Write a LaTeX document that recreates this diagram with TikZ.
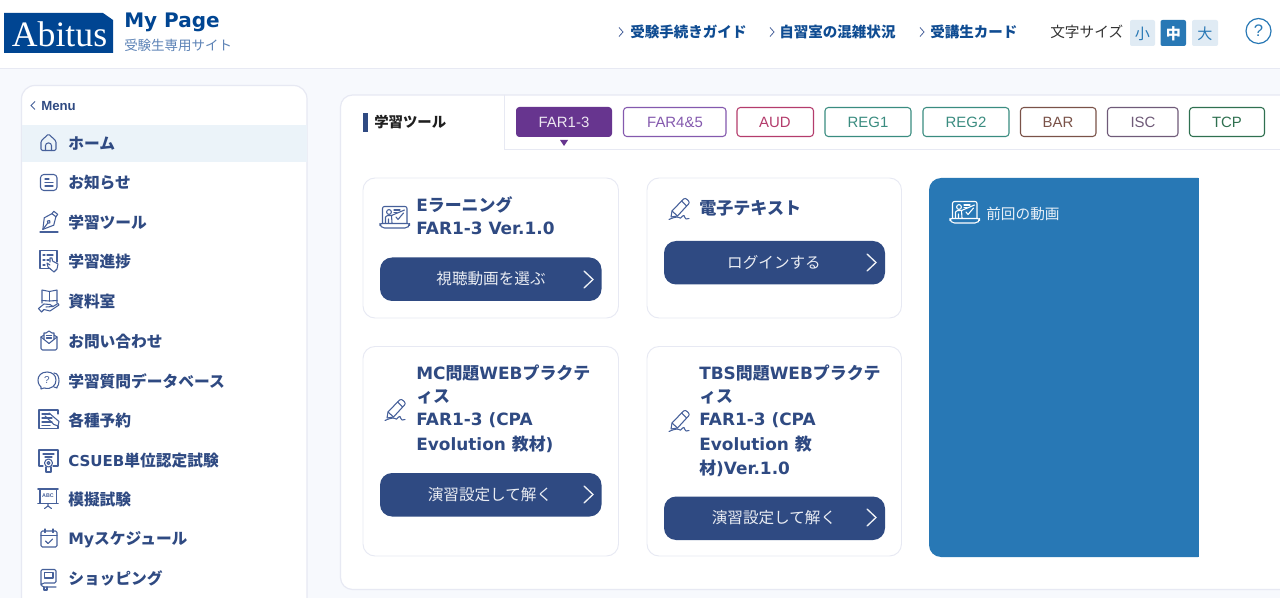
\documentclass[tikz,border=0pt]{standalone}
\usepackage{fontspec}
\setmainfont{Noto Sans CJK JP}
\newfontfamily\cjk{Noto Sans CJK JP}
\newfontfamily\lat{DejaVu Sans}
\newfontfamily\ari{Liberation Sans}
\newfontfamily\srf{Liberation Serif}
\newcommand\la[1]{{\lat #1}}
\definecolor{navy}{HTML}{2F4A82}
\definecolor{logoblue}{HTML}{004592}
\definecolor{linkblue}{HTML}{0F4C92}
\definecolor{midblue}{HTML}{2878B5}
\definecolor{paleblue}{HTML}{E0EBF4}
\definecolor{hilite}{HTML}{EBF3F9}
\definecolor{pagebg}{HTML}{F7F9FD}
\definecolor{rule}{HTML}{E7E9F3}
\definecolor{subblue}{HTML}{5D83B6}
\definecolor{tabpurple}{HTML}{67358F}
\definecolor{icon}{HTML}{46609A}
\definecolor{fartwo}{HTML}{8459AE}
\definecolor{audc}{HTML}{B43C6C}
\definecolor{regc}{HTML}{3A8C80}
\definecolor{barc}{HTML}{7A5248}
\definecolor{iscc}{HTML}{6F5A78}
\definecolor{tcpc}{HTML}{2F7050}
\tikzset{
  txt/.style={inner sep=0pt,anchor=west},
  menuitem/.style={txt,text=navy,font=\cjk\bfseries\fontsize{11.8pt}{14pt}\selectfont},
  toplink/.style={txt,text=linkblue,font=\cjk\bfseries\fontsize{10.9pt}{13pt}\selectfont},
  cardtitle/.style={txt,text=navy,font=\lat\bfseries\fontsize{12.7pt}{15pt}\selectfont},
  btntext/.style={inner sep=0pt,text=white!90!navy,font=\cjk\fontsize{11.7pt}{14pt}\selectfont},
  tabtext/.style={inner sep=0pt,font=\ari\fontsize{11.2pt}{14pt}\selectfont},
  cardbox/.style={draw=rule,fill=white,line width=.7pt,rounded corners=9pt},
  btnbox/.style={fill=navy,rounded corners=9pt},
  tabbox/.style={line width=.8pt,rounded corners=2.5pt,fill=white},
  sizebox/.style={rounded corners=1.5pt},
  sizetxt/.style={inner sep=0pt,font=\cjk\fontsize{11.3pt}{13pt}\selectfont},
  chev/.style={draw=white!92!navy,line width=1pt,line cap=round,line join=miter},
  smallchev/.style={draw=#1,line width=.6pt},
  ico/.style={draw=#1,line width=.8pt,line cap=round,line join=round},
}
\newcommand\teacher[3]{\begin{scope}[shift={(#1,#2)},ico=#3]
  \draw[rounded corners=1.5pt] (-12.5,5.5) -- (-12.5,-11.5) -- (12,-11.5) -- (12,5.5);
  \draw[rounded corners=1.5pt] (-15,5.5) -- (14.5,5.5) -- (14.5,7.5) -- (12,10) -- (-12.5,10) -- (-15,7.5) -- cycle;
  \draw (-6,-6) circle (2.4);
  \draw (-9.5,5) -- (-9.5,-1) -- (-7.5,-2.5) -- (-3.5,-2.5) -- (9.5,-8);
  \draw (-3.5,-2.5) -- (-3,5) (-6.5,1) -- (-6.5,5);
  \draw (-1,-8) -- (5,-8) (-1,-5.5) -- (2,-5.5);
  \draw (1,-1) -- (3,1.5) -- (8.5,-5);
\end{scope}}
\newcommand\penicon[3]{\begin{scope}[shift={(#1,#2)},ico=#3]
  \draw (-7,2) -- (4.5,-10) .. controls (6,-11) and (7,-10.5) .. (8,-9.5) -- (9.5,-8) .. controls (10.5,-7) and (10.5,-6) .. (9.5,-5) -- (-1.5,7) -- (-8,8) -- cycle;
  \draw (2.5,-8) -- (7.5,-3);
  \draw (-7,2) -- (-1.5,7);
  \draw (-10,10.5) .. controls (-6,8.5) and (-2,7.5) .. (0,8.5) .. controls (2,11) and (3,6) .. (5,6.5) .. controls (6,7) and (5.5,10) .. (7,10) -- (10,9.5);
\end{scope}}
\begin{document}
\begin{tikzpicture}[x=0.75pt,y=-0.75pt]
\useasboundingbox (0,0) rectangle (1280,598);
\clip (0,0) rectangle (1280,598);
\fill[pagebg] (0,0) rectangle (1280,598);
% header
\fill[white] (0,0) rectangle (1280,68);
\draw[rule,line width=.9pt] (0,68.5) -- (1280,68.5);
\fill[logoblue] (4,13) -- (103,13) -- (113,20) -- (113,53) -- (4,53) -- cycle;
\node (logo) [inner sep=0pt,text=white,font=\srf\fontsize{26.8pt}{30pt}\selectfont] at (59.5,34) {Abitus};
\node (mypage) [txt,text=logoblue,font=\lat\bfseries\fontsize{15pt}{18pt}\selectfont] at (124,22.5) {My Page};
\node (sub) [txt,text=subblue,font=\cjk\fontsize{10.1pt}{12pt}\selectfont] at (124,45) {受験生専用サイト};
\foreach \cx in {621,772,922} \draw[smallchev=icon] (\cx-2,27.5) -- (\cx+2,32) -- (\cx-2,36.5);
\node (link1) [toplink] at (630,32) {受験手続きガイド};
\node (link2) [toplink] at (779,32) {自習室の混雑状況};
\node (link3) [toplink] at (930,32) {受講生カード};
\node (fsize) [txt,text=black!80,font=\cjk\fontsize{11pt}{13pt}\selectfont] at (1050,32) {文字サイズ};
\fill[sizebox,paleblue] (1130,20) rectangle (1155,46);
\fill[sizebox,midblue] (1160.5,20) rectangle (1186,46);
\fill[sizebox,paleblue] (1192,20) rectangle (1218,46);
\node (sz1) [sizetxt,text=midblue] at (1142.5,33.5) {小};
\node (sz2) [sizetxt,text=white,font=\cjk\bfseries\fontsize{11.3pt}{13pt}\selectfont] at (1173.5,33.5) {中};
\node (sz3) [sizetxt,text=midblue] at (1205,33.5) {大};
\draw[midblue,line width=.9pt] (1258.5,31) circle (12.5);
\node (qm) [inner sep=0pt,text=midblue,font=\ari\fontsize{12.5pt}{14pt}\selectfont] at (1258.5,31) {?};
% side menu
\draw[draw=rule,fill=white,line width=.9pt,rounded corners=10pt] (21.5,640) -- (21.5,85.5) -- (307,85.5) -- (307,640);
\fill[hilite] (22,125) rectangle (306.5,162.5);
\draw[smallchev=icon] (35,101.5) -- (31,105.5) -- (35,109.5);
\node (menu) [txt,text=navy,font=\ari\bfseries\fontsize{9.9pt}{12pt}\selectfont] at (41,106) {Menu};
\node (m1) [menuitem] at (68,143.5) {ホーム};
\node (m2) [menuitem] at (68,182.5) {お知らせ};
\node (m3) [menuitem] at (68,222.5) {学習ツール};
\node (m4) [menuitem] at (68,261.5) {学習進捗};
\node (m5) [menuitem] at (68,301.5) {資料室};
\node (m6) [menuitem] at (68,341.5) {お問い合わせ};
\node (m7) [menuitem] at (68,381) {学習質問データベース};
\node (m8) [menuitem] at (68,420.5) {各種予約};
\node (m9) [menuitem] at (68,460.5) {{\lat\fontsize{11.3pt}{14pt}\selectfont CSUEB}単位認定試験};
\node (m10) [menuitem] at (68,499.5) {模擬試験};
\node (m11) [menuitem] at (68,540) {\la{My}スケジュール};
\node (m12) [menuitem] at (68,578) {ショッピング};
% menu icons
\begin{scope}[ico=icon]
  % home
  \draw[rounded corners=1pt] (41,141) -- (48.5,134) -- (56,141) -- (56,150.5) -- (41,150.5) -- cycle;
  \draw[rounded corners=2pt] (45.5,150.5) -- (45.5,143) -- (51.5,143) -- (51.5,150.5);
  % notice
  \draw[rounded corners=2.5pt] (40.5,174.5) rectangle (57,190.5);
  \draw (45,179) -- (49,179) (45,182.5) -- (53,182.5) (45,186) -- (53,186);
  % nib
  \begin{scope}[shift={(49,221.5)},rotate=-38]
    \draw (-2.5,-11) -- (2.5,-11) -- (2.5,-8) -- (6,0) -- (0,10) -- (-6,0) -- (-2.5,-8) -- cycle;
    \draw (-2.5,-8) -- (2.5,-8) (0,10) -- (0,2);
    \draw (0,0.5) circle (1.6);
  \end{scope}
  \draw (40,232) -- (58,232);
  % progress
  \draw (57,262) -- (57,250.5) -- (40,250.5) -- (40,268.5) -- (50,268.5);
  \draw (43,255) -- (45,255) (47,255) -- (53,255) (43,260) -- (45,260) (43,265) -- (45,265) (47,260) -- (49,260);
  \draw (50,262) -- (50,258) -- (52,258) -- (52.5,261) -- (58,264) -- (57,269) -- (54,272) -- (48,267) -- (47,263) -- (50,265);
  % book-hand
  \draw (42,303) -- (42,290) -- (49.5,291.5) -- (57,290) -- (57,303);
  \draw (49.5,291.5) -- (49.5,301);
  \draw (42,300.5) -- (49.5,301) -- (57,300.5);
  \draw (38.5,308.5) -- (44,304) -- (50,304.5) -- (53,306.5) -- (58,303.5) -- (59,305) -- (50,311) -- (44,309.5) -- (41.5,312) -- cycle;
  \draw (46,307) -- (53,306.5);
  % mail
  \draw[rounded corners=1pt] (41,337) -- (41,350) -- (57,350) -- (57,337);
  \draw (41,337) -- (49,343.5) -- (57,337);
  \draw (41,337) -- (44,335) (57,337) -- (54,335);
  \draw (44,339) -- (44,333) -- (46,333) -- (49,331) -- (52,333) -- (54,333) -- (54,339);
  \draw (46.5,335.5) -- (51.5,335.5) (46.5,338) -- (51.5,338);
  % chat
  \draw (47,372) .. controls (41,372) and (38,376) .. (38,380) .. controls (38,384) and (40,386) .. (41,387) -- (41,389) -- (44,388) .. controls (52,390) and (56,385) .. (56,380) .. controls (56,375) and (52,372) .. (47,372);
  \draw (54,373) .. controls (58,373) and (59,378) .. (59,381) .. controls (59,384) and (58,386) .. (57,387) -- (57,388) -- (54,387);
  % reservation
  \draw (58,414) -- (58,410) -- (39,410) -- (39,428.5) -- (58,428.5) -- (58,426);
  \draw (42,414) -- (50,414) (42,418) -- (52,418) (42,422) -- (52,422) (42,425.5) -- (50,425.5);
  \draw (49,413) -- (59,421.5) -- (58,426) -- (54,424.5) -- (45,416);
  % certificate
  \draw (43,466) -- (39,466) -- (39,450) -- (58,450) -- (58,466) -- (53,466);
  \draw (43,454) -- (54,454) (45,457) -- (52,457);
  \draw (48.5,463) circle (4);
  \draw (48.5,463) circle (1.5);
  \draw (46,467) -- (46,472) -- (51,472) -- (51,467);
  % ABC screen
  \draw[line width=1.2pt] (38,489) -- (58,489);
  \draw (40,489) -- (40,503) (56.5,489) -- (56.5,503);
  \draw[line width=1.4pt] (38,503.5) -- (58,503.5);
  \draw (48,503.5) -- (48,506) (44.5,508.5) -- (48,506) -- (51.5,508.5);
  % calendar
  \draw[rounded corners=1pt] (41,531) rectangle (57,547);
  \draw (41,535.5) -- (57,535.5) (45,529) -- (45,532.5) (53,529) -- (53,532.5);
  \draw (45.5,541) -- (48,543.5) -- (52.5,539);
  % book
  \draw[rounded corners=1pt] (41,585) -- (41,569.5) -- (56,569.5) -- (56,583) -- (43,583) -- (41,585) -- (43,587) -- (56,587);
  \draw (44.5,572.5) rectangle (53,578);
  \draw (44,587) -- (44,590) -- (47,590) -- (47,587);
\end{scope}
\node (abc) [inner sep=0pt,text=icon,font=\ari\bfseries\fontsize{4pt}{5pt}\selectfont] at (48,495.5) {ABC};
\node (chatq) [inner sep=0pt,text=icon,font=\ari\fontsize{7.5pt}{8pt}\selectfont] at (47,380.5) {?};
% main panel
\draw[draw=rule,fill=white,line width=.9pt,rounded corners=9pt] (1290,95) -- (340.5,95) -- (340.5,589.5) -- (1290,589.5);
\draw[rule,line width=.9pt] (504.5,95) -- (504.5,149.5) -- (1280,149.5);
\fill[navy] (363,113) rectangle (368,132);
\node (ttl) [txt,text=black!88,font=\cjk\bfseries\fontsize{10.8pt}{13pt}\selectfont] at (374,122) {学習ツール};
% tabs
\fill[tabpurple,rounded corners=2.5pt] (516,107) rectangle (612,137);
\node (t1) [tabtext,text=white!88!tabpurple] at (564,122) {FAR1-3};
\fill[tabpurple] (560,140) -- (568,140) -- (564,146) -- cycle;
\draw[tabbox,draw=fartwo] (623.5,107.5) rectangle (726,136.5);
\node (t2) [tabtext,text=fartwo] at (675,122) {FAR4\&5};
\draw[tabbox,draw=audc] (737,107.5) rectangle (813.5,136.5);
\node (t3) [tabtext,text=audc] at (775,122) {AUD};
\draw[tabbox,draw=regc] (825,107.5) rectangle (911,136.5);
\node (t4) [tabtext,text=regc] at (868,122) {REG1};
\draw[tabbox,draw=regc] (923,107.5) rectangle (1009,136.5);
\node (t5) [tabtext,text=regc] at (966,122) {REG2};
\draw[tabbox,draw=barc] (1020.5,107.5) rectangle (1096,136.5);
\node (t6) [tabtext,text=barc] at (1058,122) {BAR};
\draw[tabbox,draw=iscc] (1107.5,107.5) rectangle (1178,136.5);
\node (t7) [tabtext,text=iscc] at (1143,122) {ISC};
\draw[tabbox,draw=tcpc] (1189.5,107.5) rectangle (1264.5,136.5);
\node (t8) [tabtext,text=tcpc] at (1227,122) {TCP};
% cards
\draw[cardbox] (363,178) rectangle (618.5,318);
\draw[cardbox] (647,178) rectangle (901.5,318);
\draw[cardbox] (363,346.5) rectangle (618.5,556);
\draw[cardbox] (647,346.5) rectangle (901.5,556);
% card 1
\teacher{395}{218}{icon}
\node (c1a) [cardtitle] at (416,205) {E{\cjk ラーニング}};
\node (c1b) [cardtitle] at (416,228.5) {FAR1-3 Ver.1.0};
\fill[btnbox] (380,257.5) rectangle (601.5,301);
\node (b1) [btntext] at (491,279) {視聴動画を選ぶ};
\draw[chev] (584,271) -- (593,279.5) -- (584,288);
% card 2
\penicon{679}{209}{icon}
\node (c2a) [txt,text=navy,font=\cjk\bfseries\fontsize{12.8pt}{15pt}\selectfont] at (699,208) {電子テキスト};
\fill[btnbox] (664,241) rectangle (885,284.5);
\node (b2) [btntext] at (774,262.5) {ログインする};
\draw[chev] (867,254) -- (876,262.5) -- (867,271);
% card 3
\penicon{395}{410}{icon}
\node (c3a) [cardtitle] at (416,373) {MC{\cjk 問題}WEB{\cjk プラクテ}};
\node (c3b) [cardtitle] at (416,397) {\cjk ィス};
\node (c3c) [cardtitle] at (416,420.5) {FAR1-3 (CPA};
\node (c3d) [cardtitle] at (416,444) {Evolution {\cjk 教材})};
\fill[btnbox] (380,473) rectangle (601.5,516.5);
\node (b3) [btntext] at (490,494.5) {演習設定して解く};
\draw[chev] (584,486) -- (593,494.5) -- (584,503);
% card 4
\penicon{679}{421}{icon}
\node (c4a) [cardtitle] at (699,373) {TBS{\cjk 問題}WEB{\cjk プラクテ}};
\node (c4b) [cardtitle] at (699,397) {\cjk ィス};
\node (c4c) [cardtitle] at (699,420.5) {FAR1-3 (CPA};
\node (c4d) [cardtitle] at (699,444) {Evolution {\cjk 教}};
\node (c4e) [cardtitle] at (699,468) {{\cjk 材})Ver.1.0};
\fill[btnbox] (664,496.5) rectangle (885,540);
\node (b4) [btntext] at (774,517.5) {演習設定して解く};
\draw[chev] (867,509) -- (876,517.5) -- (867,526);
% blue panel
\fill[midblue,rounded corners=9pt] (1210,178) -- (929,178) -- (929,557) -- (1210,557) -- cycle;
\fill[white] (1199,170) rectangle (1280,565);
\teacher{965}{213}{white}
\node (prev) [txt,text=white!90!midblue,font=\cjk\fontsize{11pt}{13pt}\selectfont] at (986,213.5) {前回の動画};
\end{tikzpicture}
\end{document}
